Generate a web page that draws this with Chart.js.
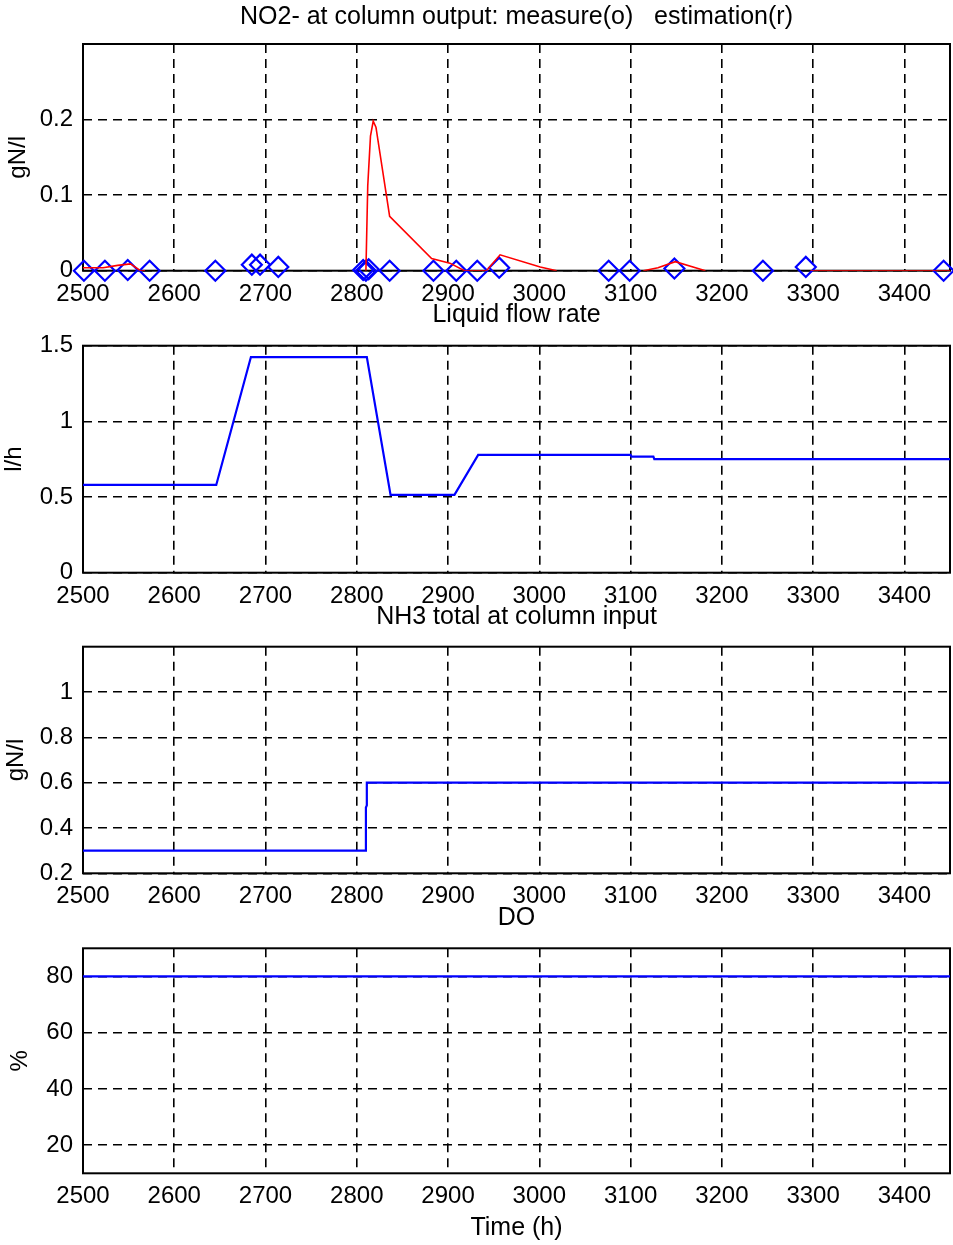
<!DOCTYPE html>
<html lang="en">
<head>
<meta charset="UTF-8">
<title>Nitrification column 2500-3450 h</title>
<script src="https://cdn.jsdelivr.net/npm/chart.js"></script>
<style>
  body { margin: 0; background: #fff; }
  #wrap { position: relative; width: 953px; height: 1245px; overflow: hidden; }
  canvas { position: absolute; left: 0; }
</style>
</head>
<body>
<div id="wrap">
  <canvas id="no2" width="953" height="310" style="top:0px"></canvas>
  <canvas id="flow" width="953" height="312" style="top:300px"></canvas>
  <canvas id="nh3" width="953" height="312" style="top:600px"></canvas>
  <canvas id="do" width="953" height="345" style="top:900px"></canvas>
</div>
<script>
const timeTicks = [2500, 2600, 2700, 2800, 2900, 3000, 3100, 3200, 3300, 3400];

// NO2- at column output: measured samples and model estimate (null = no estimate)
const no2MeasTime  = [2501, 2524, 2549, 2573, 2645, 2685, 2694, 2714, 2807, 2810, 2813, 2836, 2884, 2909, 2932, 2956, 3076, 3099, 3148, 3245, 3292, 3443];
const no2MeasValue = [0, 0, 0.001, 0, 0, 0.008, 0.008, 0.005, 0.001, 0, 0.002, 0, 0, 0, 0, 0.004, 0, 0, 0.003, 0, 0.005, 0];
const no2EstTime  = [2500, 2522, 2538, 2552, 2563, 2568, 2600,
                     2810, 2812, 2815, 2818, 2821, 2836, 2882, 2902, 2918, 2942, 2957, 3001, 3019, 3060,
                     3114, 3130, 3149, 3182, 3250, 3297, 3450];
const no2EstValue = [0.004, 0.004, 0.007, 0.009, 0, 0, null,
                     0, 0.112, 0.178, 0.198, 0.19, 0.072, 0.016, 0.01, 0, 0, 0.021, 0.005, 0, null,
                     0, 0.004, 0.012, 0, null, 0, 0];
const no2Ticks = [0, 0.1, 0.2];

// liquid flow rate (l/h)
const flowTime  = [2500, 2646, 2684, 2811, 2837, 2907, 2933, 3100, 3101, 3125, 3126, 3450];
const flowValue = [0.58, 0.58, 1.425, 1.425, 0.514, 0.514, 0.778, 0.778, 0.767, 0.767, 0.751, 0.751];
const flowTicks = [0, 0.5, 1, 1.5];

// total NH3 at column input (gN/l)
const nh3Time  = [2500, 2810, 2810, 2811, 2811, 3450];
const nh3Value = [0.3, 0.3, 0.49, 0.5, 0.6, 0.6];
const nh3Ticks = [0.2, 0.4, 0.6, 0.8, 1];

// dissolved oxygen (%)
const doTime  = [2500, 3450];
const doValue = [80, 80];
const doTicks = [20, 40, 60, 80];

const FONT = '"Liberation Sans", Arial, sans-serif';
const pts = (xs, ys) => xs.map((x, i) => ({ x: x, y: ys[i] }));

// axes box drawn over the dashed grid, under the curves
const boxPlugin = {
  id: 'box',
  beforeDatasetsDraw(chart) {
    const { ctx, chartArea: a } = chart;
    ctx.save();
    ctx.strokeStyle = '#000';
    ctx.lineWidth = 2;
    ctx.strokeRect(a.left, a.top, a.right - a.left, a.bottom - a.top);
    ctx.restore();
  }
};

function line(data, color, width) {
  return { data: data, showLine: true, spanGaps: false, borderColor: color, borderWidth: width,
           pointRadius: 0, tension: 0, order: 0 };
}

function panel(id, cfg) {
  return new Chart(document.getElementById(id), {
    type: 'scatter',
    data: { datasets: cfg.datasets },
    options: {
      responsive: false,
      animation: false,
      devicePixelRatio: 1,
      layout: { autoPadding: false, padding: { left: 0, right: 3, top: 0, bottom: 0 } },
      plugins: {
        legend: { display: false },
        tooltip: { enabled: false },
        title: {
          display: true, text: cfg.title, color: '#000', fullSize: false,
          font: { family: FONT, size: 25, weight: 'normal' },
          padding: { top: cfg.titleTop, bottom: cfg.titleBottom }
        }
      },
      scales: {
        x: {
          type: 'linear', min: 2500, max: 3450,
          afterBuildTicks: s => { s.ticks = timeTicks.map(v => ({ value: v })); },
          afterFit: s => { s.height = cfg.xHeight; },
          ticks: { color: '#000', font: { family: FONT, size: 24 }, padding: 9, maxRotation: 0,
                   autoSkip: false, callback: v => String(v) },
          grid: { color: '#000', lineWidth: 1.6, drawTicks: false },
          border: { display: false, dash: [9, 6] },
          title: cfg.xTitle
            ? { display: true, text: cfg.xTitle, color: '#000', font: { family: FONT, size: 25 },
                padding: { top: 0, bottom: 2 } }
            : { display: false }
        },
        y: {
          min: cfg.yMin, max: cfg.yMax,
          afterBuildTicks: s => { s.ticks = cfg.yTicks.map(v => ({ value: v })); },
          afterFit: s => { s.width = 83; },
          ticks: { color: '#000', font: { family: FONT, size: 24 }, padding: 10, callback: v => String(v) },
          grid: { color: '#000', lineWidth: 1.6, drawTicks: false },
          border: { display: false, dash: [9, 6] },
          title: { display: true, text: cfg.yTitle, color: '#000', font: { family: FONT, size: 24 },
                   padding: { top: cfg.yTitlePad, bottom: 0 } }
        }
      }
    },
    plugins: [boxPlugin]
  });
}

panel('no2', {
  title: 'NO2- at column output: measure(o)   estimation(r)',
  titleTop: 2.5, titleBottom: 11.5, xHeight: 39.3,
  yMin: 0, yMax: 0.3, yTicks: no2Ticks, yTitle: 'gN/l', yTitlePad: 4,
  datasets: [
    line(pts(no2EstTime, no2EstValue), '#ff0000', 1.6),
    { data: pts(no2MeasTime, no2MeasValue), pointStyle: 'rectRot', pointRadius: 10,
      pointBorderColor: '#0000ff', pointBorderWidth: 2.2, pointBackgroundColor: 'rgba(0,0,0,0)',
      clip: false, order: 1 }
  ]
});

panel('flow', {
  title: 'Liquid flow rate',
  titleTop: 0, titleBottom: 15.7, xHeight: 39.3,
  yMin: 0, yMax: 1.5, yTicks: flowTicks, yTitle: 'l/h', yTitlePad: 0,
  datasets: [line(pts(flowTime, flowValue), '#0000ff', 2.2)]
});

panel('nh3', {
  title: 'NH3 total at column input',
  titleTop: 2, titleBottom: 14.7, xHeight: 38.7,
  yMin: 0.2, yMax: 1.2, yTicks: nh3Ticks, yTitle: 'gN/l', yTitlePad: 2.3,
  datasets: [line(pts(nh3Time, nh3Value), '#0000ff', 2.2)]
});

panel('do', {
  title: 'DO',
  titleTop: 3, titleBottom: 15.3, xHeight: 71.7, xTitle: 'Time (h)',
  yMin: 10, yMax: 90, yTicks: doTicks, yTitle: '%', yTitlePad: 6,
  datasets: [line(pts(doTime, doValue), '#0000ff', 2.2)]
});
</script>
</body>
</html>
